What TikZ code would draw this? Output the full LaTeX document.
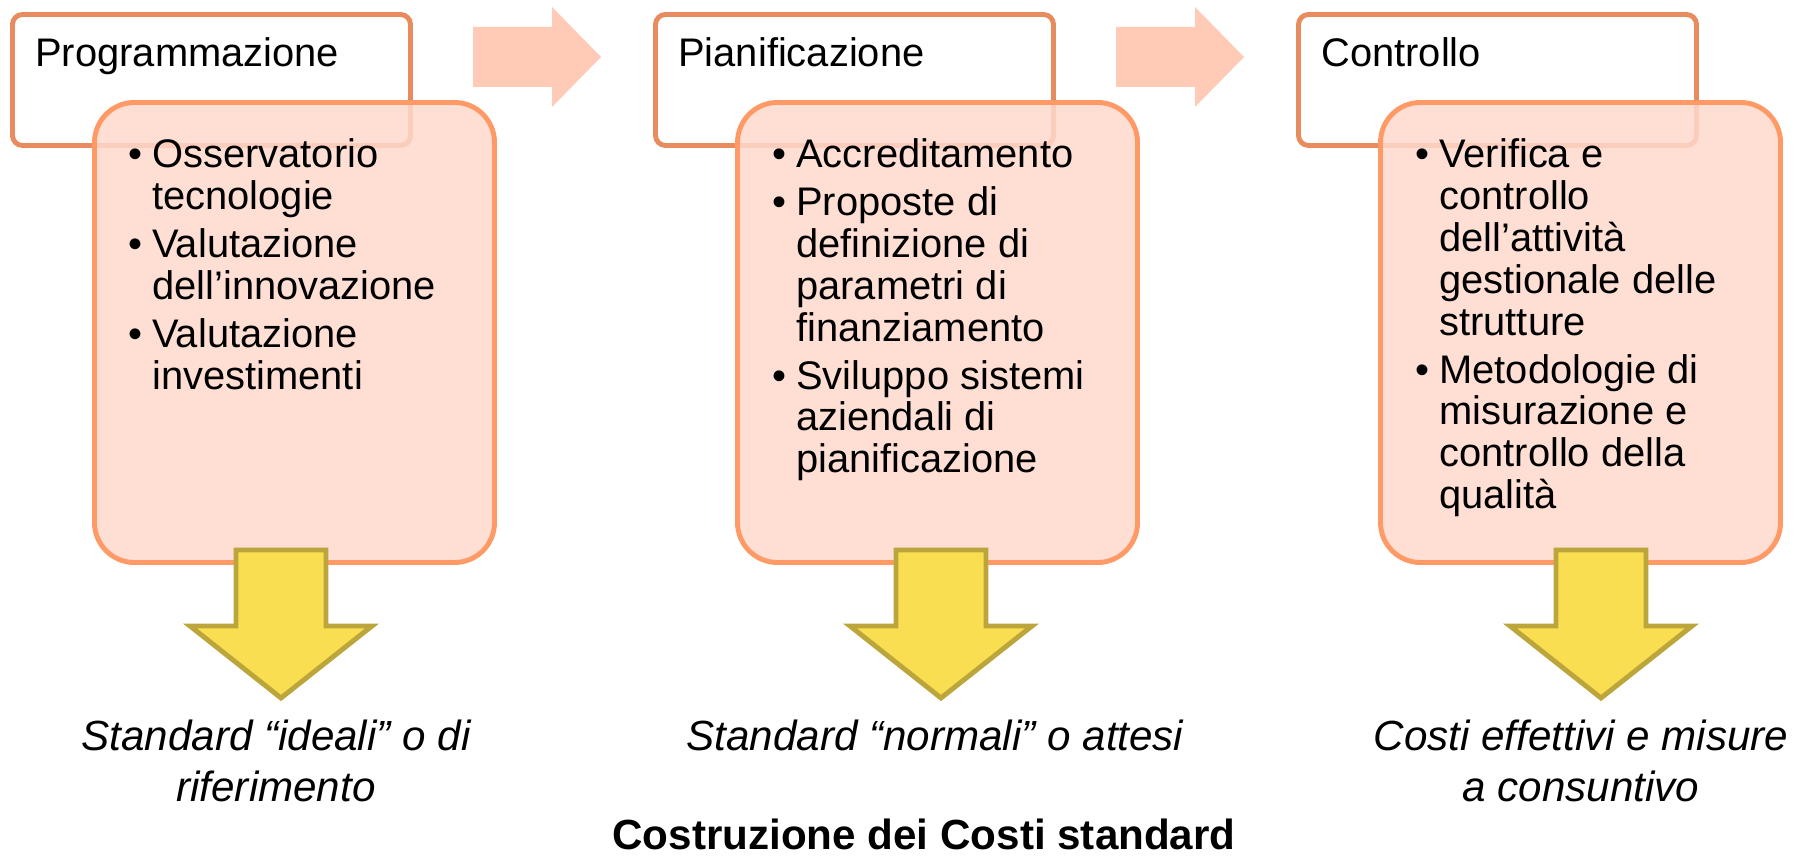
\documentclass[tikz,border=0pt]{standalone}
\usepackage{fontspec}
\setmainfont{Liberation Sans}

\definecolor{headline}{HTML}{E88B5F}
\definecolor{boxline}{HTML}{FF9A66}
\definecolor{boxfill}{HTML}{FFD9CD}
\definecolor{flowfill}{HTML}{FFCAB6}
\definecolor{goldfill}{HTML}{F9DE52}
\definecolor{goldline}{HTML}{BCA63C}

\newcommand{\bul}{\llap{\textbullet\hspace{5.7pt}}}

\tikzset{
    headbox/.style={draw=headline, fill=white, line width=2.8pt, rounded corners=5.7pt},
    listbox/.style={draw=boxline, fill=boxfill, fill opacity=0.85, line width=2.8pt, rounded corners=22.7pt},
    flowarrow/.style={fill=flowfill},
    downarrow/.style={draw=goldline, fill=goldfill, line width=2.8pt},
    headtext/.style={anchor=base west, inner sep=0pt, font=\fontsize{22.7}{23.8}\selectfont},
    listtext/.style={anchor=base west, inner sep=0pt, font=\fontsize{22.7}{23.8}\selectfont},
    resulttext/.style={anchor=base, inner sep=0pt, font=\fontsize{24}{29.5}\selectfont\itshape},
    titletext/.style={anchor=base, inner sep=0pt, font=\fontsize{24}{29.5}\selectfont\bfseries}
}

\begin{document}
\begin{tikzpicture}[x=0.02cm, y=-0.02cm]
    \useasboundingbox (0, 0) rectangle (1808, 857);

    \draw[headbox] (12.5, 14.5) rectangle (410.5, 145.5);
    \draw[headbox] (655.5, 14.5) rectangle (1053.5, 145.5);
    \draw[headbox] (1298.5, 14.5) rectangle (1696.5, 145.5);

    \draw[listbox] (94.5, 102.5) rectangle (494.5, 562.5);
    \draw[listbox] (737.5, 102.5) rectangle (1137.5, 562.5);
    \draw[listbox] (1380.5, 102.5) rectangle (1780.5, 562.5);

    \fill[flowarrow] (473, 27) -- (552, 27) -- (552, 7) -- (601, 57) -- (552, 107) -- (552, 87) -- (473, 87) -- cycle;
    \fill[flowarrow] (1116, 27) -- (1195, 27) -- (1195, 7) -- (1244, 57) -- (1195, 107) -- (1195, 87) -- (1116, 87) -- cycle;

    \draw[downarrow] (236, 550) -- (326, 550) -- (326, 626) -- (372, 626) -- (281, 698) -- (190, 626) -- (236, 626) -- cycle;
    \draw[downarrow] (896, 550) -- (986, 550) -- (986, 626) -- (1032, 626) -- (941, 698) -- (850, 626) -- (896, 626) -- cycle;
    \draw[downarrow] (1556, 550) -- (1646, 550) -- (1646, 626) -- (1692, 626) -- (1601, 698) -- (1510, 626) -- (1556, 626) -- cycle;

    \node[headtext] (progr) at (35, 67) {Programmazione};
    \node[headtext] (pianif) at (678, 67) {Pianificazione};
    \node[headtext] (contr) at (1321, 67) {Controllo};

    \node[listtext] (progrlist) at (152, 168) {\begin{tabular}[t]{@{}l@{}}
        \bul Osservatorio\\ tecnologie\\[3.4pt]
        \bul Valutazione\\ dell’innovazione\\[3.4pt]
        \bul Valutazione\\ investimenti
    \end{tabular}};
    \node[listtext] (pianiflist) at (796, 168) {\begin{tabular}[t]{@{}l@{}}
        \bul Accreditamento\\[3.4pt]
        \bul Proposte di\\ definizione di\\ parametri di\\ finanziamento\\[3.4pt]
        \bul Sviluppo sistemi\\ aziendali di\\ pianificazione
    \end{tabular}};
    \node[listtext] (contrlist) at (1439, 168) {\begin{tabular}[t]{@{}l@{}}
        \bul Verifica e\\ controllo\\ dell’attività\\ gestionale delle\\ strutture\\[3.4pt]
        \bul Metodologie di\\ misurazione e\\ controllo della\\ qualità
    \end{tabular}};

    \node[resulttext] (ideali) at (276, 750) {\begin{tabular}[t]{@{}c@{}}Standard “ideali” o di\\ riferimento\end{tabular}};
    \node[resulttext] (normali) at (935, 750) {Standard “normali” o attesi};
    \node[resulttext] (effettivi) at (1581, 750) {\begin{tabular}[t]{@{}c@{}}Costi effettivi e misure\\ a consuntivo\end{tabular}};

    \node[titletext] (titolo) at (924, 849) {Costruzione dei Costi standard};
\end{tikzpicture}
\end{document}
